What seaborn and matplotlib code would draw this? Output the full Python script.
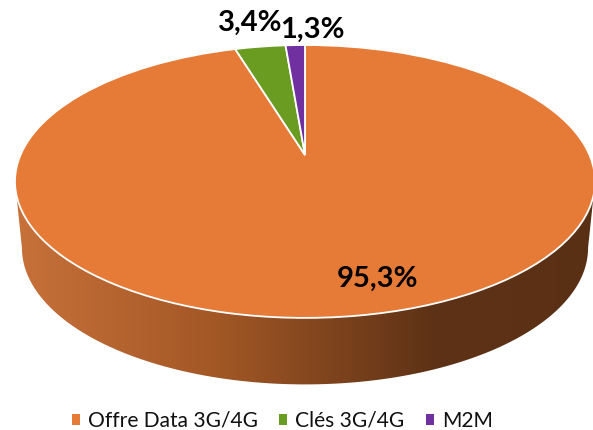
import numpy as np
import seaborn as sns
import matplotlib
matplotlib.use('Agg')
import matplotlib.pyplot as plt
from matplotlib.colors import LinearSegmentedColormap
from matplotlib.patches import Polygon
from matplotlib.transforms import Transform

categories = ['Offre Data 3G/4G', 'Clés 3G/4G', 'M2M']
shares = [95.3, 3.4, 1.3]
colors = ['#E67B37', '#6A9C22', '#7030A0']
label_pos = [(378, 279), (250, 23), (312, 30)]

wall_stops = [(0.0, '#C8713A'), (0.35, '#A25725'), (0.72, '#5E3216'), (1.0, '#5A3015')]

# size of the disc on screen, in pixels
cx, cy = 305, 155
W, H, k = 284.5, 131.3, 0.194
depth, bottom_scale = 66.5, 0.976


# tilted disc: a homography from the pie's unit circle to pixels
class TiltedDisc(Transform):
    input_dims = output_dims = 2

    def transform_non_affine(self, values):
        values = np.asarray(values)
        x, y = values[:, 0], values[:, 1]
        d = 1 + k * y
        return np.column_stack([cx + W * x / d, cy - H * y / d])


sns.set_theme(style='white')
plt.rcParams['font.family'] = ['Lato', 'DejaVu Sans']

fig = plt.figure(figsize=(5.93, 4.30), dpi=100)
ax = fig.add_axes([0, 0, 1, 1])

wedges, _ = ax.pie(shares, colors=colors, startangle=90, counterclock=False,
                   wedgeprops={'edgecolor': 'white', 'linewidth': 1.3, 'zorder': 3})
disc = TiltedDisc()
for w in wedges:
    w.set_transform(disc + ax.transData)

# side wall: front half of the rim, pushed down for the lower edge
theta = np.linspace(np.pi + np.arcsin(k), 2 * np.pi - np.arcsin(k), 200)
rim = disc.transform_non_affine(np.column_stack([np.cos(theta), np.sin(theta)]))
mid_y = cy + H * k / (1 - k ** 2)
lower = np.column_stack([cx + (rim[:, 0] - cx) * bottom_scale, rim[:, 1] + depth])
wall = Polygon(np.vstack([rim, lower[::-1]]), closed=True, transform=ax.transData)

cmap = LinearSegmentedColormap.from_list('wall', wall_stops)
im = ax.imshow(np.linspace(0, 1, 256).reshape(1, -1), cmap=cmap, aspect='auto',
               extent=(15, 595, 390, mid_y), zorder=1)
im.set_clip_path(wall)

for share, (lx, ly) in zip(shares, label_pos):
    ax.text(lx, ly, f'{share:.1f}%'.replace('.', ','), ha='center', va='center',
            fontsize=21, fontweight='bold', color='black', zorder=5)

ax.set_aspect('auto')
ax.set_xlim(0, 593)
ax.set_ylim(430, 0)
ax.axis('off')

leg = ax.legend(wedges, categories, loc='lower left', bbox_to_anchor=(0.121, -0.002), ncol=3,
                frameon=False, fontsize=15.1, handlelength=0.38, handleheight=0.38,
                handletextpad=0.38, columnspacing=1.03, borderaxespad=0, borderpad=0,
                labelcolor='#111111')
for h in leg.legend_handles:
    h.set_edgecolor('none')

plt.savefig('out.png', dpi=100)
